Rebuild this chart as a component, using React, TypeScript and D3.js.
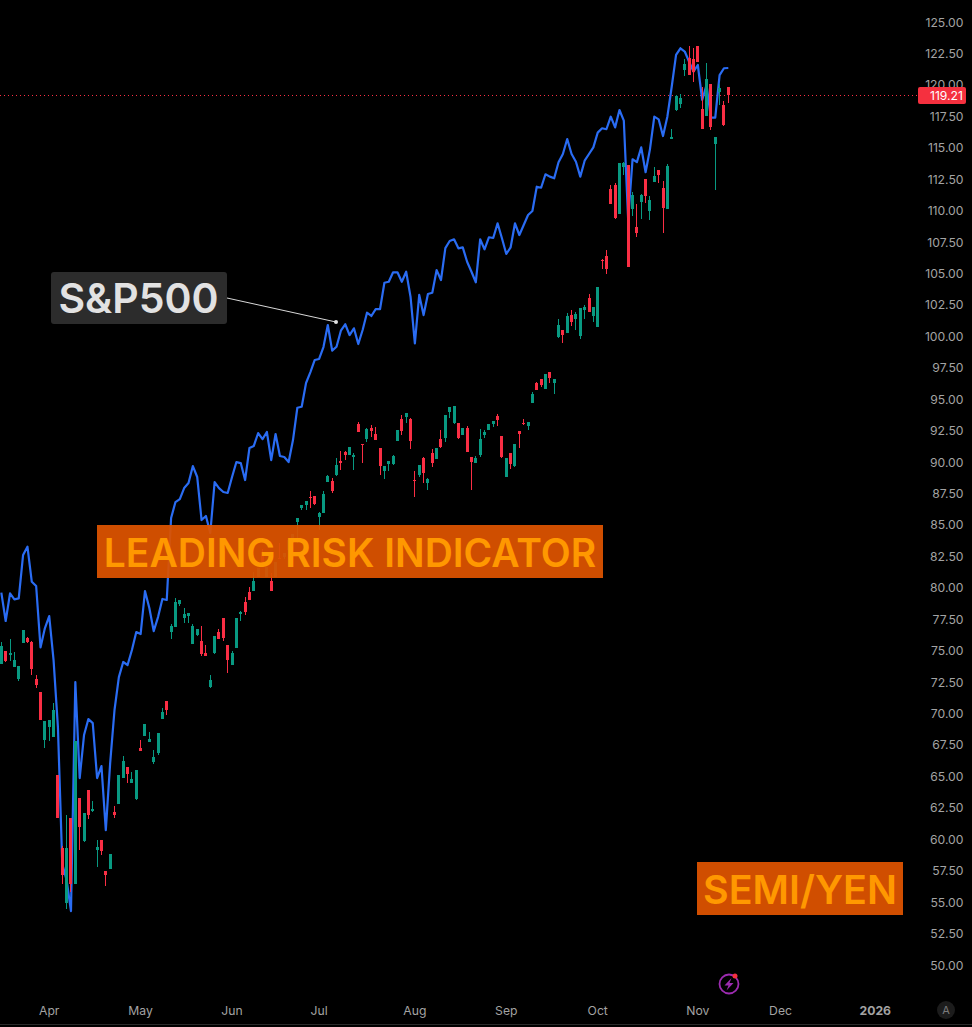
import React from "react";
import * as d3 from "d3";

const opens = [73.94,74.98,74.66,73.70,72.75,75.61,76.01,75.69,72.75,71.72,67.90,68.93,68.14,65.12,59.31,54.94,61.72,56.45,63.29,59.87,63.92,62.25,59.15,59.95,57.48,57.64,62.17,62.81,64.88,65.75,64.48,63.21,67.26,68.22,67.74,66.15,66.86,69.57,71.00,76.49,76.89,78.71,77.60,77.76,75.53,76.25,75.77,74.82,72.11,74.82,76.49,77.60,75.45,73.86,75.22,77.92,78.87,79.67,79.75,80.88,82.87,80.83,80.54,80.83,82.39,82.47,83.00,83.60,85.23,86.34,86.58,87.22,87.30,85.63,85.95,88.41,88.49,88.97,90.08,90.80,90.56,90.40,93.02,91.43,91.83,92.71,92.23,91.12,89.29,89.84,89.84,91.67,93.42,93.58,93.42,88.57,88.97,90.32,88.33,90.72,90.24,91.83,91.91,93.98,93.10,93.10,92.15,92.71,90.40,89.92,90.56,92.15,92.55,93.02,93.66,92.07,88.81,90.72,89.68,92.47,93.10,92.87,94.69,96.28,96.60,95.81,97.16,96.28,99.94,100.50,100.26,101.69,101.38,100.02,102.09,103.05,101.61,100.74,106.07,106.39,111.71,112.03,109.73,113.46,113.62,110.12,108.69,110.68,112.51,109.97,112.27,113.23,111.79,110.12,115.69,118.00,118.47,121.18,122.13,122.05,123.09,118.08,117.52,120.07,115.29,119.43,118.40,119.83];
const highs = [75.69,74.98,75.93,74.90,73.78,76.65,76.09,75.77,73.07,71.72,69.41,69.49,70.84,65.12,59.47,61.93,61.72,67.82,63.29,62.09,63.92,63.05,59.95,59.95,57.48,58.83,62.65,65.12,66.63,65.75,65.35,65.51,67.90,69.17,68.53,67.10,68.46,70.44,71.00,77.12,79.19,79.03,78.40,78.00,77.12,76.73,76.97,75.45,73.07,76.17,76.73,77.60,75.45,74.98,77.60,78.16,79.27,80.07,81.26,81.55,83.06,81.68,81.20,82.08,83.53,82.79,83.80,84.30,85.55,86.58,86.90,87.70,87.30,86.03,87.70,88.97,88.73,90.32,90.88,90.88,91.20,90.72,93.18,91.43,92.71,92.94,92.79,91.12,89.68,90.08,90.56,92.55,93.74,93.90,93.50,89.29,89.76,90.40,88.73,91.04,91.12,92.55,93.74,94.38,94.46,93.10,92.71,92.87,90.40,90.48,92.63,92.55,93.02,93.26,93.82,92.07,90.32,90.72,91.43,92.47,93.42,93.18,95.57,96.36,96.60,97.00,97.16,96.60,101.38,100.50,101.85,102.09,101.93,102.25,102.49,103.36,102.33,103.92,106.15,106.86,112.03,112.19,113.78,113.86,113.62,111.48,110.52,111.32,112.51,111.16,113.46,113.23,112.35,113.70,116.49,119.19,119.27,122.05,123.09,122.93,123.09,119.83,121.74,120.07,115.85,120.07,118.71,119.83];
const lows = [73.94,74.08,74.18,73.70,72.59,75.61,75.61,73.07,72.03,69.49,67.26,67.82,68.14,61.70,56.45,54.46,55.81,56.45,59.15,59.79,61.62,62.17,57.80,58.75,56.29,57.64,61.70,62.81,64.88,64.48,64.48,63.13,67.02,68.22,67.74,65.99,66.71,69.57,69.89,75.93,76.89,78.56,77.20,77.20,75.53,76.17,74.58,74.58,72.03,74.74,75.93,75.77,73.23,73.86,75.22,77.36,77.84,79.03,79.75,80.88,81.94,80.83,79.75,80.83,82.26,82.26,83.00,83.60,83.56,86.18,86.18,86.34,86.58,84.60,85.95,88.41,87.54,88.89,89.37,90.16,90.56,89.37,92.39,89.92,91.59,91.99,91.75,88.97,88.65,89.29,89.76,91.67,92.15,93.10,91.04,87.22,88.81,88.33,87.78,89.60,90.24,91.12,91.59,93.50,93.02,91.83,92.15,90.80,87.78,89.92,90.40,91.91,92.55,92.79,92.87,90.32,88.81,89.45,89.60,91.12,92.94,92.55,94.69,95.73,95.97,95.81,96.28,95.41,99.86,99.47,100.26,100.82,100.50,99.78,101.38,101.93,101.14,100.74,105.35,104.95,110.52,109.33,109.73,112.83,105.51,109.57,107.90,109.33,110.60,109.25,112.27,112.19,108.22,110.12,115.69,117.92,118.16,120.70,120.78,120.22,121.82,116.49,117.52,116.41,111.64,118.40,116.73,118.55];
const closes = [75.37,74.16,74.82,74.26,73.78,76.65,75.69,73.55,72.27,69.49,69.41,69.49,70.28,61.70,57.16,59.31,56.45,67.82,60.98,62.09,61.93,62.41,59.39,59.07,57.16,58.83,61.93,65.12,66.23,65.19,64.80,65.51,67.02,69.17,67.98,66.55,68.46,70.13,70.28,76.97,78.87,79.03,77.92,78.00,76.97,76.73,74.74,74.58,72.67,76.17,75.93,76.01,74.26,74.82,77.60,78.08,78.08,79.03,80.54,81.55,82.08,81.68,79.75,82.08,82.26,82.79,83.80,84.30,85.55,86.58,86.90,87.14,86.66,85.95,87.46,88.89,87.70,89.76,89.92,90.56,91.20,90.56,92.39,91.35,92.63,92.47,91.75,89.68,89.68,90.08,90.48,92.55,92.47,93.90,91.67,88.49,89.76,89.13,88.65,89.92,91.12,91.20,93.74,94.38,94.46,91.91,92.71,90.80,90.00,90.32,91.83,92.39,93.02,93.26,93.34,90.40,90.32,89.84,91.43,92.23,93.02,93.18,95.41,95.73,96.13,97.00,96.68,96.60,100.90,100.10,101.61,101.14,101.77,102.25,102.33,101.93,102.33,103.92,105.99,105.35,110.52,109.41,113.78,113.78,105.51,111.24,108.22,111.24,111.16,110.84,112.75,112.83,110.20,113.54,115.85,119.11,118.95,121.66,120.78,121.02,121.82,116.49,120.46,116.65,115.85,119.75,116.80,119.21];
const sp500 = [79.61,77.36,79.56,79.08,79.16,82.61,83.27,80.48,80.14,75.26,76.78,77.75,74.25,68.92,58.03,56.76,54.29,72.50,64.87,68.29,69.56,69.24,64.87,65.82,60.73,66.06,70.28,72.90,74.10,73.86,75.05,76.48,76.32,79.74,78.39,76.56,77.67,79.11,79.03,85.55,86.82,87.06,87.93,88.33,89.68,88.81,85.39,85.71,84.36,88.41,87.93,87.62,87.54,88.81,90.00,89.92,88.57,91.12,91.28,92.31,91.83,92.39,90.16,92.23,90.48,90.40,90.00,91.75,94.32,94.40,96.29,97.16,98.12,98.20,99.15,100.90,98.86,99.17,100.45,100.96,100.10,100.64,99.39,100.50,101.88,101.62,102.17,102.17,104.26,104.34,105.09,105.09,104.34,105.14,103.15,99.44,103.29,101.69,103.37,103.47,105.27,104.48,107.02,107.58,107.72,107.00,107.08,105.93,105.14,104.30,107.72,106.92,107.88,107.82,108.99,107.80,106.55,107.08,108.99,108.06,108.85,109.65,109.97,111.90,111.82,112.89,112.70,112.57,113.84,114.50,115.69,114.50,113.89,112.70,113.97,114.50,115.03,116.20,116.55,116.47,117.47,116.62,118.00,117.15,109.25,114.08,113.86,115.03,113.05,114.87,117.47,117.26,115.93,117.47,119.85,122.38,122.91,122.65,121.84,121.05,121.58,118.80,119.99,117.39,117.39,120.78,121.32,121.34];

const priceTicks = d3.range(50, 125.01, 2.5);
const timeLabels = ["Apr", "May", "Jun", "Jul", "Aug", "Sep", "Oct", "Nov", "Dec", "2026"];
const timeSlots = [11, 32, 53, 73, 95, 116, 137, 160, 179, 201];
const lastPrice = 119.21;

const GREEN = "#089981";
const RED = "#FA2E44";
const FONT = "Inter, 'Noto Sans', sans-serif";

const x = d3.scaleLinear().domain([0, 167]).range([1.33, 728.3]);
const y = d3.scaleLinear().domain([50, 125]).range([965, 22]);

const linePath = d3.line<number>().x((_, i) => x(i)).y((d) => y(d))(sp500) ?? "";

export default function App() {
  const lastY = Math.round(y(lastPrice)) + 0.5;
  return (
    <svg
      width={972}
      height={1027}
      viewBox="0 0 972 1027"
      style={{ position: "fixed", left: 0, top: 0, display: "block", background: "#000" }}
    >
      <rect x={0} y={0} width={972} height={1027} fill="#000" />
      <line x1={0} x2={918} y1={lastY} y2={lastY} stroke={RED} strokeWidth={1} strokeDasharray="1 3" />
      <path d={linePath} fill="none" stroke="#2A6CF3" strokeWidth={2.2} strokeLinejoin="round" />

      <g shapeRendering="crispEdges">
        {opens.map((o, i) => {
          const c = closes[i];
          const col = c >= o ? GREEN : RED;
          const cx = Math.floor(x(i));
          const top = Math.round(y(Math.max(o, c)));
          const bot = Math.round(y(Math.min(o, c)));
          return (
            <g key={i} fill={col}>
              <rect x={cx} y={y(highs[i])} width={1} height={y(lows[i]) - y(highs[i])} />
              <rect x={cx - 1} y={top} width={3} height={Math.max(1, bot - top)} />
            </g>
          );
        })}
      </g>

      <g fontFamily={FONT} fontSize={12.2} fill="#A3A3A3">
        {priceTicks.map((p) => (
          <text key={p} x={963.5} y={y(p) + 4.5} textAnchor="end">
            {p.toFixed(2)}
          </text>
        ))}
        {timeLabels.map((t, i) => (
          <text
            key={t}
            x={x(timeSlots[i]) - (t === "2026" ? 1 : 0)}
            y={1015}
            textAnchor="middle"
            fontWeight={t === "2026" ? 700 : 400}
          >
            {t}
          </text>
        ))}
      </g>

      <rect x={918} y={87} width={48} height={17} rx={2} fill="#F5303F" />
      <text x={963} y={100} textAnchor="end" fontFamily={FONT} fontSize={12.2} fill="#fff">
        {lastPrice.toFixed(2)}
      </text>

      <rect x={97} y={525} width={506} height={53} fill="#DC5300" fillOpacity={0.94} />
      <text x={350} y={567} textAnchor="middle" fontFamily={FONT} fontSize={39} fontWeight={600} fill="#FF9800">
        LEADING RISK INDICATOR
      </text>
      <rect x={697} y={862} width={206} height={53} fill="#D04E00" />
      <text x={800} y={904} textAnchor="middle" fontFamily={FONT} fontSize={39.5} fontWeight={600} fill="#FF9800">
        SEMI/YEN
      </text>

      <rect x={51} y={272} width={176} height={52} rx={3} fill="#2C2C2C" />
      <text x={138.5} y={313} textAnchor="middle" fontFamily={FONT} fontSize={41} fontWeight={600} fill="#E2E2E2">
        S&amp;P500
      </text>
      <line x1={227} y1={298} x2={336} y2={322} stroke="#D8D8D8" strokeWidth={1} />
      <circle cx={336} cy={322} r={2} fill="#E0E0E0" />

      <circle cx={729} cy={984} r={9.5} fill="none" stroke="#9C2BB0" strokeWidth={1.8} />
      <path d="M731.5 978 L724.5 985.5 L728.5 985.5 L726.5 990.5 L733.5 983 L729.5 983 Z" fill="#9C2BB0" />
      <circle cx={735} cy={976} r={2.5} fill="#F5303F" />

      <circle cx={946} cy={1010} r={9} fill="#1C1C1C" />
      <text x={946} y={1014} textAnchor="middle" fontFamily={FONT} fontSize={11} fill="#7A7A7A">
        A
      </text>
      <line x1={0} x2={972} y1={1024.5} y2={1024.5} stroke="#2A2A2A" strokeWidth={1} />
    </svg>
  );
}
